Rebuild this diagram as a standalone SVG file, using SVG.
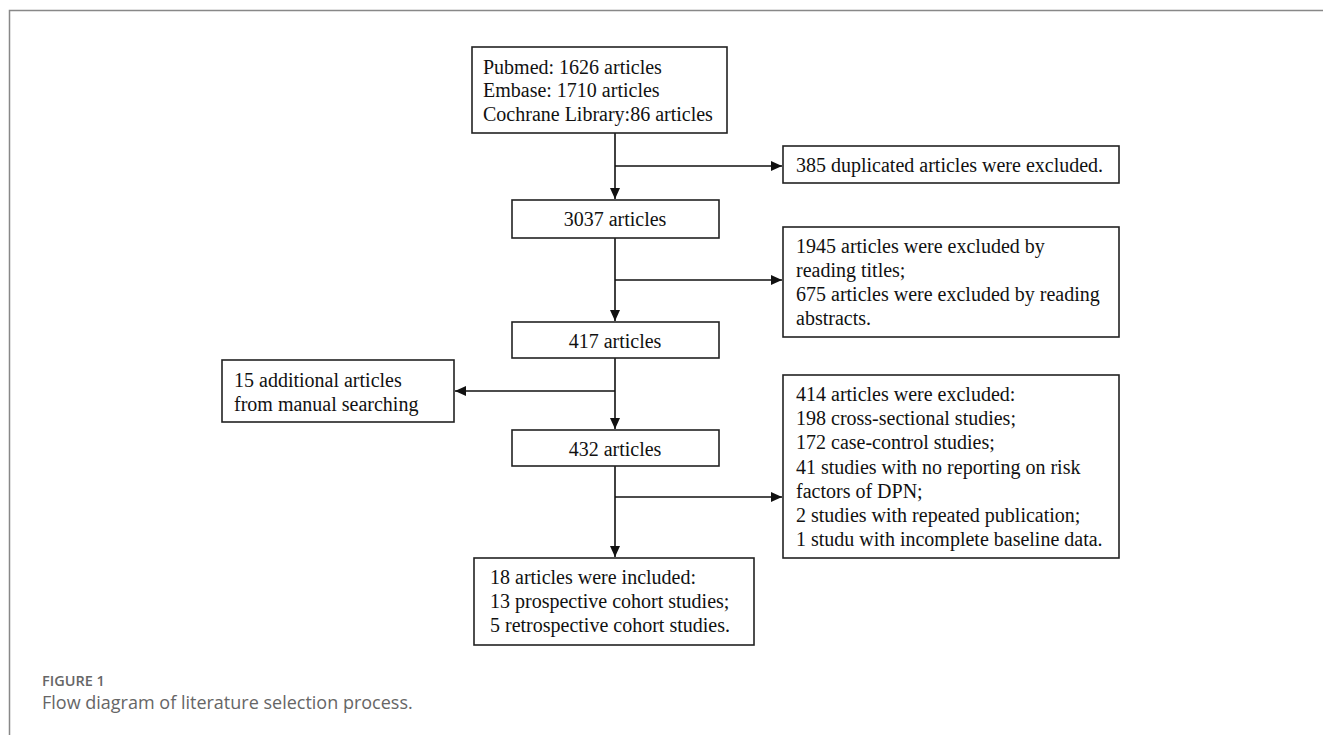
<svg xmlns="http://www.w3.org/2000/svg" width="1323" height="735" viewBox="0 0 1323 735">
<style>
.box{fill:#fff;stroke:#222;stroke-width:1.6}
.t{font-family:"Liberation Serif","Times New Roman",serif;font-size:20px;fill:#111}
.c{text-anchor:middle}
.ln{fill:none;stroke:#111;stroke-width:1.6}
.cap1{font-family:"Open Sans","Noto Sans",sans-serif;font-size:14.5px;font-weight:600;fill:#666}
.cap2{font-family:"Open Sans","Noto Sans",sans-serif;font-size:18px;fill:#666}
</style>
<defs>
<marker id="ah" markerWidth="12" markerHeight="12" refX="11" refY="5.5" orient="auto" markerUnits="userSpaceOnUse">
<path d="M0,0.5 L11,5.5 L0,10.5 Z" fill="#111"/>
</marker>
</defs>
<rect width="1323" height="735" fill="#fff"/>
<path d="M9.5,735 V10.5 H1323" fill="none" stroke="#888" stroke-width="1.5"/>

<g id="connectors">
<path class="ln" d="M615,133 V199" marker-end="url(#ah)"/>
<path class="ln" d="M615,166 H782" marker-end="url(#ah)"/>
<path class="ln" d="M615,238 V321" marker-end="url(#ah)"/>
<path class="ln" d="M615,280 H782" marker-end="url(#ah)"/>
<path class="ln" d="M615,358 V429" marker-end="url(#ah)"/>
<path class="ln" d="M615,391 H455" marker-end="url(#ah)"/>
<path class="ln" d="M615,466 V557" marker-end="url(#ah)"/>
<path class="ln" d="M615,497 H782" marker-end="url(#ah)"/>
</g>

<g id="n_sources">
<rect class="box" x="472" y="47" width="255" height="86"/>
<text class="t" x="483" y="74">Pubmed: 1626 articles</text>
<text class="t" x="483" y="97">Embase: 1710 articles</text>
<text class="t" x="483" y="121">Cochrane Library:86 articles</text>
</g>
<g id="n_dup">
<rect class="box" x="783" y="146" width="336" height="37"/>
<text class="t" x="796" y="172">385 duplicated articles were excluded.</text>
</g>
<g id="n_3037">
<rect class="box" x="512" y="200" width="207" height="38"/>
<text class="t c" x="615" y="226">3037 articles</text>
</g>
<g id="n_excl1">
<rect class="box" x="783" y="227" width="336" height="110"/>
<text class="t" x="796" y="253">1945 articles were excluded by</text>
<text class="t" x="796" y="277">reading titles;</text>
<text class="t" x="796" y="301">675 articles were excluded by reading</text>
<text class="t" x="796" y="325">abstracts.</text>
</g>
<g id="n_417">
<rect class="box" x="512" y="322" width="207" height="36"/>
<text class="t c" x="615" y="348">417 articles</text>
</g>
<g id="n_add">
<rect class="box" x="222" y="360" width="232" height="62"/>
<text class="t" x="234" y="387">15 additional articles</text>
<text class="t" x="234" y="411">from manual searching</text>
</g>
<g id="n_432">
<rect class="box" x="512" y="430" width="207" height="36"/>
<text class="t c" x="615" y="456">432 articles</text>
</g>
<g id="n_excl2">
<rect class="box" x="783" y="375" width="336" height="183"/>
<text class="t" x="796" y="401">414 articles were excluded:</text>
<text class="t" x="796" y="425">198 cross-sectional studies;</text>
<text class="t" x="796" y="449">172 case-control studies;</text>
<text class="t" x="796" y="474">41 studies with no reporting on risk</text>
<text class="t" x="796" y="498">factors of DPN;</text>
<text class="t" x="796" y="522">2 studies with repeated publication;</text>
<text class="t" x="796" y="546">1 studu with incomplete baseline data.</text>
</g>
<g id="n_incl">
<rect class="box" x="474" y="558" width="280" height="87"/>
<text class="t" x="490" y="584">18 articles were included:</text>
<text class="t" x="490" y="608">13 prospective cohort studies;</text>
<text class="t" x="490" y="632">5 retrospective cohort studies.</text>
</g>

<text class="cap1" x="42" y="686">FIGURE 1</text>
<text class="cap2" x="42" y="709">Flow diagram of literature selection process.</text>
</svg>
